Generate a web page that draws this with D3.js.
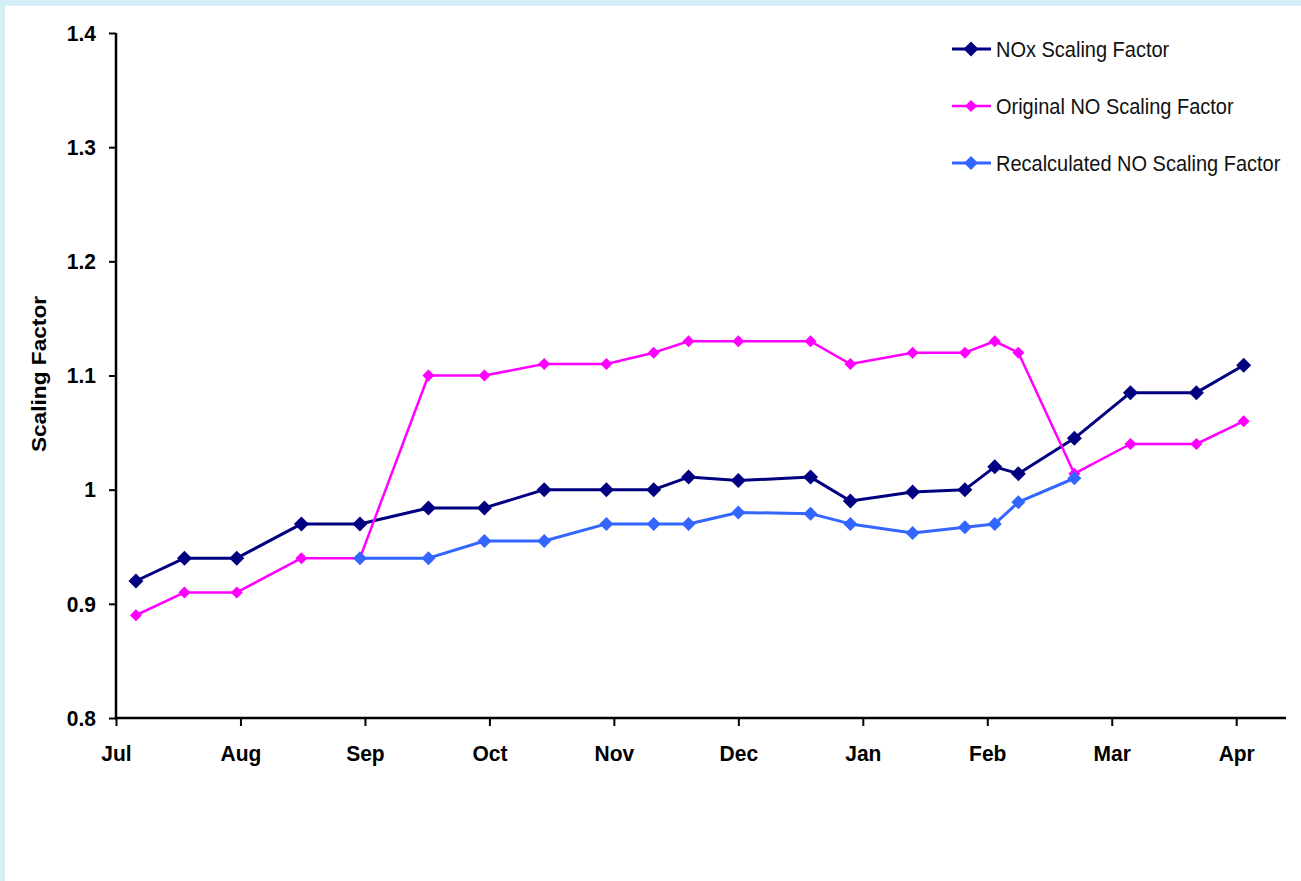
<!DOCTYPE html>
<html>
<head>
<meta charset="utf-8">
<script src="https://cdn.jsdelivr.net/npm/d3@7"></script>
<style>
  body { margin: 0; background: #ffffff; }
  svg { display: block; }
  .tick text { font-family: "Liberation Sans", Arial, sans-serif; }
</style>
</head>
<body>
<div id="chart"></div>
<script>
// month tick labels, one per month along the bottom
var months = ["Jul", "Aug", "Sep", "Oct", "Nov", "Dec", "Jan", "Feb", "Mar", "Apr"];

// sample positions, in months after the start of Jul
var samplePos = [0.16, 0.55, 0.97, 1.49, 1.96, 2.51, 2.96, 3.44, 3.94, 4.32, 4.60,
                 5.00, 5.58, 5.90, 6.40, 6.82, 7.06, 7.25, 7.70, 8.15, 8.68, 9.06];

var noxValues = [0.92, 0.94, 0.94, 0.97, 0.97, 0.984, 0.984, 1.0, 1.0, 1.0, 1.011,
                 1.008, 1.011, 0.99, 0.998, 1.0, 1.02, 1.014, 1.045, 1.085, 1.085, 1.109];

var originalValues = [0.89, 0.91, 0.91, 0.94, 0.94, 1.10, 1.10, 1.11, 1.11, 1.12, 1.13,
                      1.13, 1.13, 1.11, 1.12, 1.12, 1.13, 1.12, 1.014, 1.04, 1.04, 1.06];

// recalculated series only covers Sep .. late Feb
var recalcValues = [null, null, null, null, 0.94, 0.94, 0.955, 0.955, 0.97, 0.97, 0.97,
                    0.98, 0.979, 0.97, 0.962, 0.967, 0.97, 0.989, 1.01, null, null, null];

var yTicks = [0.8, 0.9, 1, 1.1, 1.2, 1.3, 1.4];

var width = 1301, height = 881;
var stretch = "scale(1,1.08)"; // the source picture is a little taller than wide

var series = [
  {name: "NOx Scaling Factor", values: noxValues, color: "#000080", stroke: 3, size: 15},
  {name: "Original NO Scaling Factor", values: originalValues, color: "#ff00ff", stroke: 2.5, size: 12},
  {name: "Recalculated NO Scaling Factor", values: recalcValues, color: "#3366ff", stroke: 3, size: 14}
];

var svg = d3.select("#chart").append("svg")
    .attr("width", width)
    .attr("height", height);

// light blue frame at top and left
svg.append("rect")
    .attr("width", width).attr("height", height)
    .attr("fill", "#d6eef5");
svg.append("rect")
    .attr("x", 5).attr("y", 6)
    .attr("width", width - 5).attr("height", height - 6)
    .attr("fill", "#ffffff");

var x = d3.scaleLinear().domain([0, 9.4]).range([116, 1286]);
var y = d3.scaleLinear().domain([0.8, 1.4]).range([718, 33]);

// y axis
var yAxis = svg.append("g")
    .attr("transform", "translate(116,0)")
    .call(d3.axisLeft(y).tickValues(yTicks).tickSize(7).tickPadding(13)
      .tickFormat(function(d) { return d3.format("")(+d.toFixed(1)); }));
yAxis.select(".domain").attr("stroke", "#000").attr("stroke-width", 2.5)
    .attr("d", "M0," + y(0.8) + "V" + y(1.4));
yAxis.selectAll(".tick line").attr("stroke", "#000").attr("stroke-width", 2);
yAxis.selectAll(".tick text")
    .attr("fill", "#000")
    .attr("font-size", 21)
    .attr("font-weight", "bold")
    .attr("transform", stretch);

// x axis
var xAxis = svg.append("g")
    .attr("transform", "translate(0," + y(0.8) + ")")
    .call(d3.axisBottom(x).tickValues(d3.range(months.length)).tickSize(8).tickPadding(17)
      .tickFormat(function(d, i) { return months[i]; }));
xAxis.select(".domain").attr("stroke", "#000").attr("stroke-width", 2.5)
    .attr("d", "M" + x(0) + ",0H" + x(9.4));
xAxis.selectAll(".tick line").attr("stroke", "#000").attr("stroke-width", 2);
xAxis.selectAll(".tick text")
    .attr("fill", "#000")
    .attr("font-size", 21)
    .attr("font-weight", "bold")
    .attr("transform", stretch);

// y axis title
svg.append("text")
    .attr("transform", "translate(46,374) rotate(-90) scale(1.08,1)")
    .attr("text-anchor", "middle")
    .attr("font-family", "Liberation Sans, Arial, sans-serif")
    .attr("font-size", 21)
    .attr("font-weight", "bold")
    .text("Scaling Factor");

var line = d3.line()
    .defined(function(d) { return d != null; })
    .x(function(d, i) { return x(samplePos[i]); })
    .y(function(d) { return y(d); });

function diamond(size) {
  // square turned 45 degrees, size is the diagonal
  var side = size / Math.SQRT2;
  return d3.symbol().type(d3.symbolSquare).size(side * side)();
}

series.forEach(function(s) {
  var g = svg.append("g");
  g.append("path")
    .attr("d", line(s.values))
    .attr("fill", "none")
    .attr("stroke", s.color)
    .attr("stroke-width", s.stroke)
    .attr("stroke-linejoin", "round");
  g.selectAll("path.pt")
    .data(s.values.map(function(v, i) { return {v: v, i: i}; }).filter(function(d) { return d.v != null; }))
    .enter().append("path")
    .attr("class", "pt")
    .attr("d", diamond(s.size))
    .attr("fill", s.color)
    .attr("transform", function(d) { return "translate(" + x(samplePos[d.i]) + "," + y(d.v) + ") rotate(45)"; });
});

// legend
var legend = svg.append("g").attr("transform", "translate(952,49)");
var rows = legend.selectAll("g")
    .data(series)
    .enter().append("g")
    .attr("transform", function(d, i) { return "translate(0," + [0, 57, 114][i] + ")"; });
rows.append("line")
    .attr("x1", 0).attr("x2", 39)
    .attr("stroke", function(d) { return d.color; })
    .attr("stroke-width", function(d) { return d.stroke; });
rows.append("path")
    .attr("d", function(d) { return diamond(d.size); })
    .attr("fill", function(d) { return d.color; })
    .attr("transform", "translate(19,0) rotate(45)");
rows.append("text")
    .attr("x", 44)
    .attr("dy", "0.35em")
    .attr("font-family", "Liberation Sans, Arial, sans-serif")
    .attr("font-size", 20)
    .attr("fill", "#111")
    .attr("transform", stretch)
    .text(function(d) { return d.name; });
</script>
</body>
</html>
